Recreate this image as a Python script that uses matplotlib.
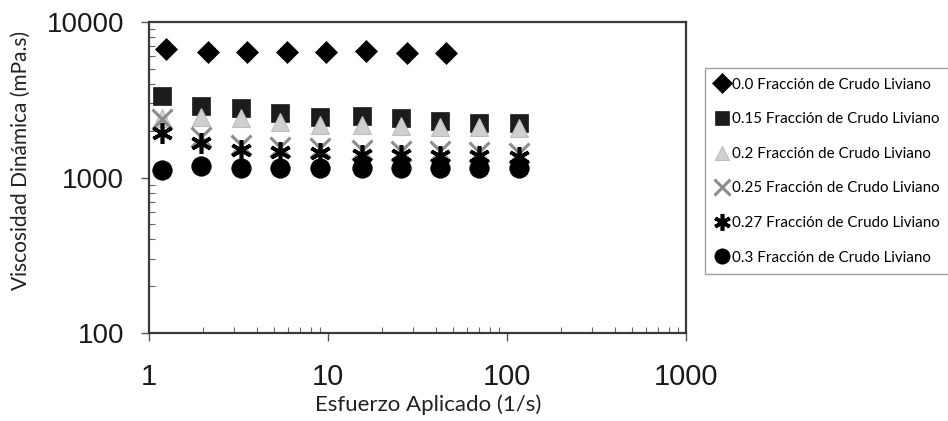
import matplotlib
matplotlib.use("Agg")
import matplotlib.pyplot as plt
from matplotlib.lines import Line2D
from matplotlib.ticker import LogLocator, FixedLocator, NullFormatter

# Shear rate (1/s) for each series
x_00 = [1.25, 2.13, 3.53, 5.9, 9.8, 16.3, 27.7, 45.7]
x_mix = [1.18, 1.95, 3.25, 5.4, 9.0, 15.4, 25.5, 42.2, 70.0, 117.0]

# Dynamic viscosity (mPa.s) per light-crude fraction
v_00 = [6700, 6450, 6450, 6450, 6450, 6550, 6300, 6300]
v_015 = [3360, 2880, 2790, 2590, 2440, 2480, 2420, 2310, 2250, 2250]
v_020 = [2400, 2460, 2420, 2290, 2180, 2170, 2150, 2120, 2120, 2070]
v_025 = [2370, 1830, 1620, 1580, 1540, 1510, 1490, 1470, 1450, 1430]
v_027 = [1920, 1660, 1500, 1450, 1440, 1400, 1390, 1380, 1370, 1360]
v_030 = [1125, 1185, 1150, 1150, 1150, 1150, 1150, 1150, 1150, 1150]

labels = [
    "0.0 Fracción de Crudo Liviano",
    "0.15 Fracción de Crudo Liviano",
    "0.2 Fracción de Crudo Liviano",
    "0.25 Fracción de Crudo Liviano",
    "0.27 Fracción de Crudo Liviano",
    "0.3 Fracción de Crudo Liviano",
]

x_ticks = [1, 10, 100, 1000]
y_ticks = [100, 1000, 10000]

fig = plt.figure(figsize=(9.48, 4.21), dpi=100)
ax = fig.add_axes([149 / 948, 1 - 333 / 421, (686 - 149) / 948, (333 - 22) / 421])

styles = [
    dict(marker="D", ms=11.5, mfc="black", mec="black", mew=0.5),
    dict(marker="s", ms=13, mfc="#1c1c1c", mec="#1c1c1c", mew=0.5),
    dict(marker="^", ms=13, mfc="#cfcfcf", mec="#bdbdbd", mew=0.8),
    dict(marker="x", ms=15, mfc="none", mec="#8c8c8c", mew=2.2),
    dict(marker=(6, 2, 0), ms=15, mfc="none", mec="black", mew=2.6),
    dict(marker="o", ms=14, mfc="black", mec="black", mew=0.5),
]
series = [
    (x_00, v_00),
    (x_mix, v_015),
    (x_mix, v_020),
    (x_mix, v_025),
    (x_mix, v_027),
    (x_mix, v_030),
]

for i, ((xs, ys), st) in enumerate(zip(series, styles)):
    ax.plot(xs, ys, linestyle="none", zorder=3 + i, **st)

ax.set_xscale("log")
ax.set_yscale("log")
ax.set_xlim(1, 1000)
ax.set_ylim(100, 10000)

ax.xaxis.set_major_locator(FixedLocator(x_ticks))
ax.yaxis.set_major_locator(FixedLocator(y_ticks))
ax.set_xticklabels([str(t) for t in x_ticks])
ax.set_yticklabels([str(t) for t in y_ticks])
ax.xaxis.set_minor_locator(LogLocator(base=10, subs=range(2, 10)))
ax.yaxis.set_minor_locator(LogLocator(base=10, subs=range(2, 10)))
ax.xaxis.set_minor_formatter(NullFormatter())
ax.yaxis.set_minor_formatter(NullFormatter())

for sp in ax.spines.values():
    sp.set_color("#3a3a3a")
    sp.set_linewidth(1.6)

ax.tick_params(which="major", direction="out", length=6, width=1, color="#555555",
               top=False, right=False)
ax.tick_params(which="minor", direction="in", length=4, width=0.8, color="#666666",
               top=False, right=False)
ax.tick_params(axis="x", which="major", labelsize=21, pad=15.5)
ax.tick_params(axis="y", which="major", labelsize=20, pad=12)
for lab in ax.get_xticklabels() + ax.get_yticklabels():
    lab.set_fontfamily("Liberation Sans")
    lab.set_color("#1a1a1a")

ax.set_xlabel("Esfuerzo Aplicado (1/s)", fontfamily="Lato", fontsize=16, color="#222222")
ax.set_ylabel("Viscosidad Dinámica (mPa.s)", fontfamily="Lato", fontsize=15, color="#222222")
ax.xaxis.set_label_coords(0.52, -0.197)
ax.yaxis.set_label_coords(-0.22, 0.556)

handles = []
leg_sizes = [10.5, 9.5, 10, 12, 12, 11]
for st, s in zip(styles, leg_sizes):
    d = dict(st)
    d["ms"] = s
    handles.append(Line2D([], [], linestyle="none", **d))

leg = fig.legend(handles, labels, loc="upper left",
                 bbox_to_anchor=(705 / 948, 1 - 68 / 421),
                 bbox_transform=fig.transFigure,
                 prop={"family": "Lato", "size": 10.9},
                 frameon=True, fancybox=False, edgecolor="#888888",
                 handlelength=0.9, handletextpad=0.25, labelspacing=1.36,
                 borderpad=0.64, borderaxespad=0)
leg.get_frame().set_linewidth(1.0)

fig.savefig("out.png", dpi=100)
